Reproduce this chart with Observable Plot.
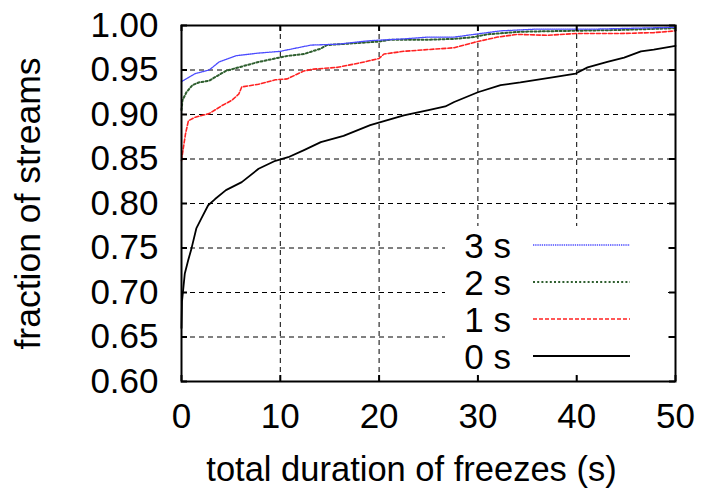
<!DOCTYPE html>
<html><head><meta charset="utf-8">
<script src="https://cdn.jsdelivr.net/npm/d3@7"></script>
<script src="https://cdn.jsdelivr.net/npm/@observablehq/plot@0.6"></script>
<style>
body{margin:0;background:#fff;}
#wrap{position:relative;width:702px;height:492px;font-family:"Liberation Sans",Arial,Helvetica,sans-serif;}
#legend{position:absolute;left:445px;top:226px;overflow:visible;}
</style></head><body><div id="wrap"></div>
<script>
// ---- data ----
const seriesNames = ["3 s", "2 s", "1 s", "0 s"];
const seriesColors = ["#4a4aff", "#2f5f2f", "#ff2222", "#000000"];
const seriesDash = ["1.3,0.9", "2,2.2", "4,2", null];
const seriesWidth = [1.3, 2, 1.6, 1.8];

const t3 = [0, 1.4, 2.8, 3.8, 5.5, 7.8, 10, 13.1, 15.8, 19.1, 22.5, 25, 27.6, 29.6, 32.3, 36, 42, 50];
const v3 = [0.937, 0.946, 0.950, 0.959, 0.966, 0.969, 0.971, 0.978, 0.979, 0.983, 0.985, 0.987, 0.987, 0.990, 0.994, 0.996, 0.996, 0.998];

const t2 = [0, 0.1, 0.5, 1.1, 1.75, 2.8, 3.4, 4.5, 5.8, 7.8, 9.5, 10.8, 12.4, 14.1, 14.7, 17.4, 20, 21.1, 25, 27.6, 29.6, 30.9, 34.3, 39.4, 44.4, 50];
const v2 = [0.905, 0.916, 0.925, 0.933, 0.936, 0.938, 0.942, 0.949, 0.953, 0.959, 0.963, 0.966, 0.968, 0.974, 0.978, 0.980, 0.982, 0.984, 0.984, 0.985, 0.987, 0.990, 0.993, 0.994, 0.995, 0.997];

const t1 = [0, 0.1, 0.4, 0.7, 1.4, 2.8, 4.1, 5.1, 5.8, 6.1, 7.8, 9.5, 10.7, 12.4, 13.4, 15.8, 18.5, 20, 20.5, 22.5, 25, 27.6, 29.6, 32, 34, 37, 40, 44.4, 47.8, 50];
const v1 = [0.848, 0.856, 0.878, 0.893, 0.897, 0.901, 0.910, 0.916, 0.923, 0.931, 0.934, 0.939, 0.940, 0.949, 0.951, 0.953, 0.959, 0.963, 0.968, 0.971, 0.973, 0.975, 0.981, 0.987, 0.990, 0.989, 0.991, 0.991, 0.992, 0.994];

const t0 = [0, 0.05, 0.33, 0.67, 1.0, 1.5, 2.0, 2.7, 3.4, 4.5, 6.1, 7.8, 9.5, 10.8, 12.4, 14.1, 16.4, 19.1, 22.5, 25, 26.7, 27.6, 30, 32.3, 34.3, 37.7, 39.9, 41.1, 43.1, 44.8, 46.5, 47.8, 50];
const v0 = [0.660, 0.690, 0.721, 0.736, 0.749, 0.772, 0.783, 0.798, 0.805, 0.815, 0.824, 0.839, 0.848, 0.852, 0.860, 0.869, 0.876, 0.888, 0.899, 0.905, 0.909, 0.914, 0.925, 0.933, 0.936, 0.942, 0.946, 0.953, 0.959, 0.964, 0.971, 0.973, 0.977];

const xTicks = [0, 10, 20, 30, 40, 50];
const yTicks = [0.60, 0.65, 0.70, 0.75, 0.80, 0.85, 0.90, 0.95, 1.00];
const xLabel = "total duration of freezes (s)";
const yLabel = "fraction of streams";

// ---- build ----
const seriesT = [t3, t2, t1, t0];
const seriesV = [v3, v2, v1, v0];
const series = seriesNames.map((name, i) => ({
  name, color: seriesColors[i], dash: seriesDash[i], width: seriesWidth[i],
  data: seriesT[i].map((t, j) => ({t, v: seriesV[i][j]}))
}));

const W = 702, H = 492, mL = 181, mR = 27, mT = 25, mB = 111;
const iW = W - mL - mR, iH = H - mT - mB;
const FONT = '"Liberation Sans", Arial, Helvetica, sans-serif';

const lineMarks = series.slice().reverse().map(s =>
  Plot.line(s.data, {x: "t", y: "v", stroke: s.color, strokeWidth: s.width,
    strokeDasharray: s.dash, curve: "linear"}));

const chart = Plot.plot({
  width: W, height: H,
  marginLeft: mL, marginRight: mR, marginTop: mT, marginBottom: mB,
  style: {fontFamily: FONT, fontSize: "35px", color: "#000", background: "#fff", overflow: "visible"},
  x: {domain: [0, 50]},
  y: {domain: [0.6, 1]},
  marks: [
    Plot.ruleY(yTicks, {y: d => d, stroke: "#000", strokeWidth: 1, strokeDasharray: "5,4"}),
    Plot.ruleX(xTicks, {x: d => d, stroke: "#000", strokeWidth: 1, strokeDasharray: "5,4"}),
    ...lineMarks,
    Plot.axisX(xTicks, {tickSize: 0, tickPadding: 22, fontSize: 35, label: null}),
    Plot.axisY(yTicks, {tickSize: 0, tickPadding: 23, fontSize: 35, label: null, tickFormat: d3.format(".2f")}),
    Plot.tickY(yTicks, {y: d => d, insetRight: iW - 6, strokeWidth: 2}),
    Plot.tickY(yTicks, {y: d => d, insetLeft: iW - 6, strokeWidth: 2}),
    Plot.tickX(xTicks, {x: d => d, insetTop: iH - 6, strokeWidth: 2}),
    Plot.tickX(xTicks, {x: d => d, insetBottom: iH - 6, strokeWidth: 2}),
    Plot.frame({stroke: "#000", strokeWidth: 2}),
    Plot.text([xLabel], {text: d => d, frameAnchor: "bottom", lineAnchor: "top", dy: 75, dx: -17, fontSize: 34.5}),
    Plot.axisY([], {label: yLabel, labelAnchor: "center", labelArrow: "none", labelOffset: 167, fontSize: 35.5, tickSize: 0, dy: -1})
  ]
});

const wrap = document.getElementById("wrap");
wrap.appendChild(chart);

// ---- legend (key box) ----
const lgW = 223, lgH = 148, rowH = 37, row0 = 19;
const lg = d3.select(wrap).append("svg").attr("id", "legend")
  .attr("width", lgW).attr("height", lgH + 14)
  .style("font-family", FONT);
lg.append("rect").attr("width", lgW).attr("height", lgH).attr("fill", "#fff");
const rows = lg.selectAll("g").data(series).join("g")
  .attr("transform", (d, i) => `translate(0,${row0 + i * rowH})`);
rows.append("text").attr("x", 66).attr("dy", "0.36em")
  .attr("text-anchor", "end").attr("font-size", 35).attr("fill", "#000")
  .text(d => d.name);
rows.append("line").attr("x1", 88).attr("x2", 185)
  .attr("stroke", d => d.color).attr("stroke-width", d => d.width)
  .attr("stroke-dasharray", d => d.dash);
</script>
</body></html>
